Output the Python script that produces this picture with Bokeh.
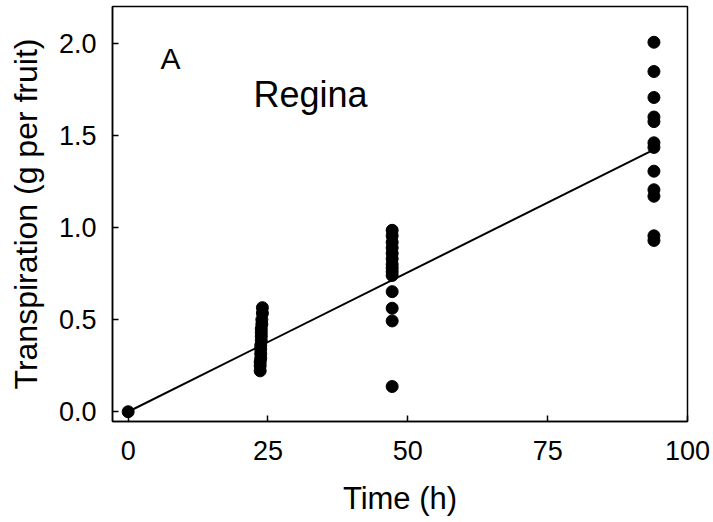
from bokeh.plotting import figure
from bokeh.models import Range1d, FixedTicker, PrintfTickFormatter, Label
from bokeh.embed import file_html
from bokeh.resources import INLINE

# ---- data ----
time_0 = [0.0]
trans_0 = [0.0]

time_24 = [24.0, 24.0, 23.9, 23.9, 23.8, 23.8, 23.8, 23.8, 23.7, 23.7, 23.7, 23.7, 23.6, 23.6, 23.6]
trans_24 = [0.565, 0.535, 0.50, 0.475, 0.45, 0.43, 0.41, 0.385, 0.36, 0.34, 0.315, 0.29, 0.27, 0.25, 0.222]

time_47 = [47.2] * 14
trans_47 = [0.985, 0.955, 0.92, 0.89, 0.86, 0.83, 0.80, 0.78, 0.76, 0.74, 0.652, 0.562, 0.493, 0.137]

time_94 = [94.0] * 12
trans_94 = [2.006, 1.847, 1.706, 1.60, 1.575, 1.46, 1.435, 1.306, 1.205, 1.17, 0.955, 0.93]

fit_time = [0.0, 94.0]
fit_trans = [0.0, 1.423]

x_ticks = [0, 25, 50, 75, 100]
y_ticks = [0.0, 0.5, 1.0, 1.5, 2.0]

times = time_0 + time_24 + time_47 + time_94
trans = trans_0 + trans_24 + trans_47 + trans_94

FONT = "Liberation Sans"

p = figure(width=713, height=522, output_backend="svg", toolbar_location=None,
           x_range=Range1d(-2.8, 100), y_range=Range1d(-0.053, 2.2),
           min_border_left=112, min_border_right=26, min_border_top=6, min_border_bottom=101)
p.background_fill_color = "white"
p.border_fill_color = "white"
p.outline_line_color = "black"
p.outline_line_width = 1.5
p.xgrid.visible = False
p.ygrid.visible = False

p.line(fit_time, fit_trans, line_color="black", line_width=2)
p.scatter(times, trans, size=12, fill_color="black", line_color="black")

for ax in (p.xaxis[0], p.yaxis[0]):
    ax.axis_line_color = "black"
    ax.axis_line_width = 1.5
    ax.major_tick_in = 6
    ax.major_tick_out = 0
    ax.major_tick_line_width = 1.5
    ax.minor_tick_line_color = None
    ax.major_label_text_font = FONT
    ax.major_label_text_font_size = "27px"
    ax.major_label_text_color = "black"
    ax.axis_label_text_font = FONT
    ax.axis_label_text_font_style = "normal"
    ax.axis_label_text_color = "black"

p.xaxis[0].ticker = FixedTicker(ticks=x_ticks)
p.yaxis[0].ticker = FixedTicker(ticks=y_ticks)
p.yaxis[0].formatter = PrintfTickFormatter(format="%.1f")
p.xaxis[0].axis_label = "Time (h)"
p.yaxis[0].axis_label = "Transpiration (g per fruit)"
p.xaxis[0].axis_label_text_font_size = "31px"
p.yaxis[0].axis_label_text_font_size = "32px"
p.xaxis[0].major_label_standoff = 19
p.yaxis[0].major_label_standoff = 16
p.xaxis[0].axis_label_standoff = 18
p.yaxis[0].axis_label_standoff = 12

p.add_layout(Label(x=5.8, y=1.915, text="A", text_font=FONT, text_font_size="30px",
                   text_align="left", text_baseline="alphabetic", text_color="black"))
p.add_layout(Label(x=22.4, y=1.72, text="Regina", text_font=FONT, text_font_size="36px",
                   text_align="left", text_baseline="alphabetic", text_color="black"))

open("out.html", "w").write(file_html(p, INLINE))
